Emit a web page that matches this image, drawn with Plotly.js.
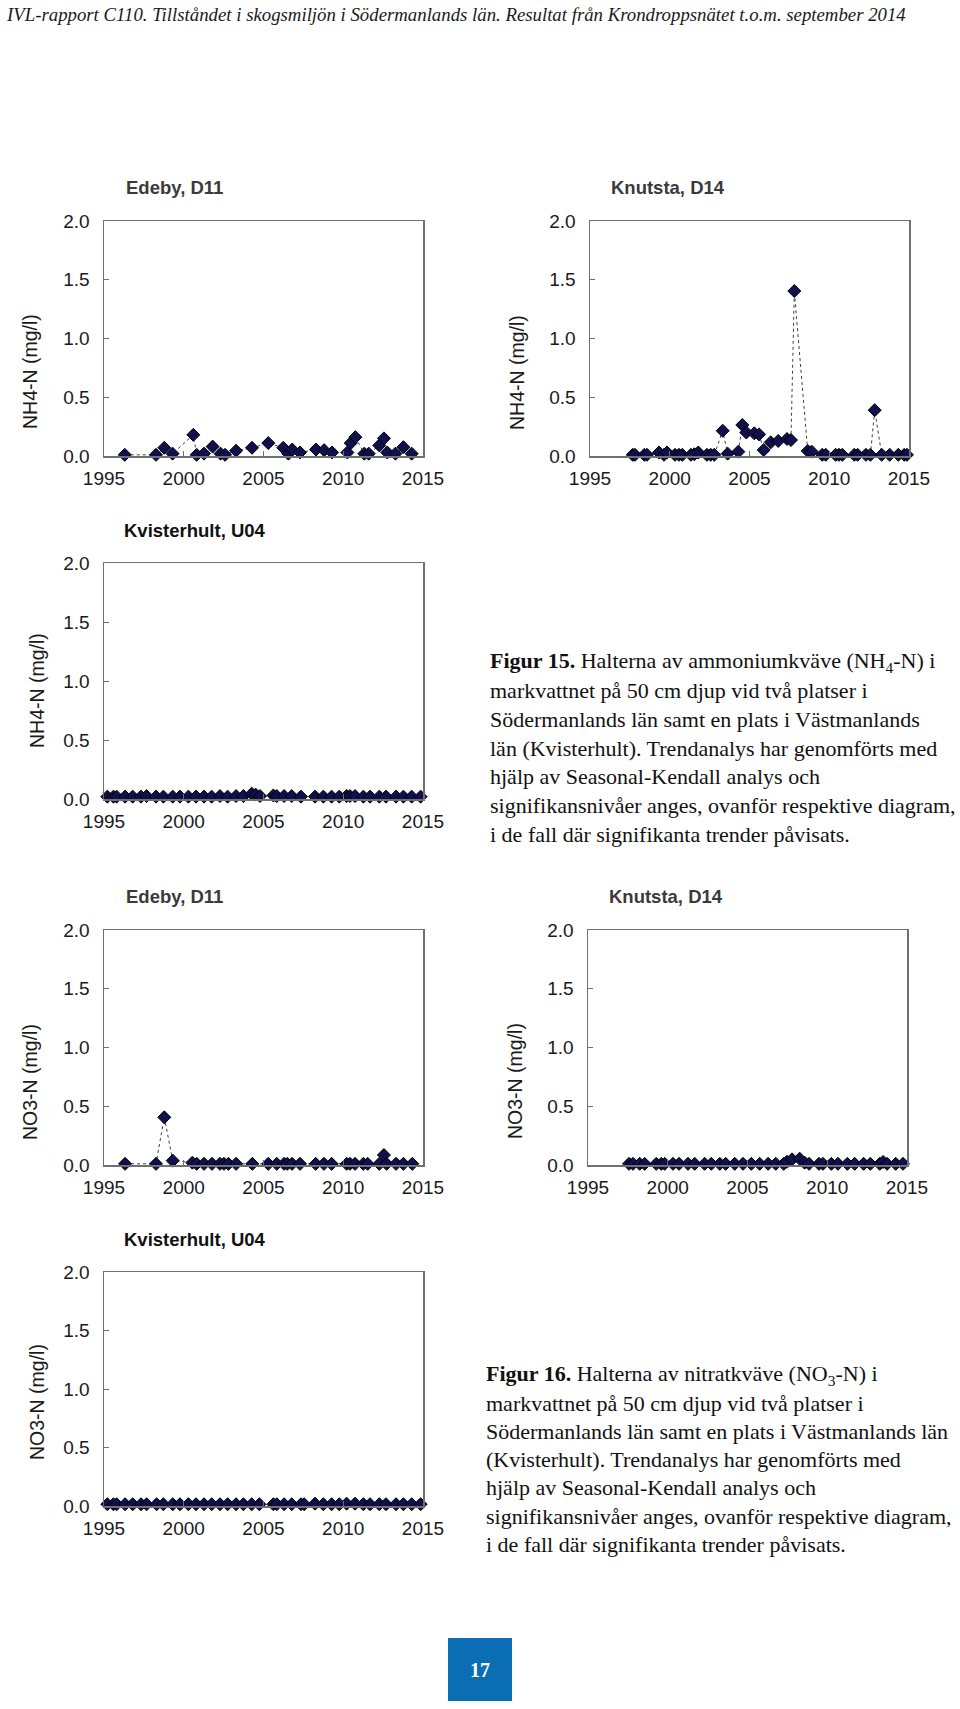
<!DOCTYPE html>
<html>
<head>
<meta charset="utf-8">
<script src="https://cdn.plot.ly/plotly-3.0.1.min.js"></script>
<style>
  html, body { margin: 0; padding: 0; background: #ffffff; }
  #chart { width: 960px; height: 1709px; }
</style>
</head>
<body>
<div id="chart"></div>
<script>
// ---------------- DATA ----------------
const xTickVals = [1995, 2000, 2005, 2010, 2015];
const yTickVals = [0, 0.5, 1.0, 1.5, 2.0];

const siteTitles = ["Edeby, D11", "Knutsta, D14", "Kvisterhult, U04"];
const nh4Label = "NH4-N (mg/l)";
const no3Label = "NO3-N (mg/l)";

// NH4-N
const edebyNH4Year = [1996.3,1998.26,1998.78,1999.3,2000.6,2000.81,2001.27,2001.81,2002.31,2002.59,2003.28,2004.28,2005.3,2006.24,2006.56,2006.8,2007.29,2008.29,2008.8,2009.3,2010.26,2010.47,2010.76,2011.32,2011.6,2012.26,2012.55,2012.76,2013.27,2013.77,2014.29];
const edebyNH4 = [0.01,0.01,0.07,0.02,0.18,0.01,0.02,0.08,0.02,0.01,0.045,0.07,0.11,0.07,0.02,0.055,0.03,0.055,0.05,0.03,0.03,0.11,0.16,0.02,0.02,0.09,0.15,0.03,0.02,0.075,0.02];

const knutstaNH4Year = [1997.68,1997.82,1998.41,1998.57,1999.33,1999.64,1999.83,2000.33,2000.58,2000.79,2001.33,2001.54,2001.79,2002.33,2002.57,2002.79,2003.32,2003.63,2004.3,2004.55,2004.8,2005.3,2005.6,2005.89,2006.33,2006.8,2007.35,2007.6,2007.81,2008.65,2008.9,2009.56,2009.78,2010.4,2010.61,2010.82,2011.57,2011.78,2012.3,2012.58,2012.85,2013.29,2013.79,2014.33,2014.7,2014.87];
const knutstaNH4 = [0.01,0.01,0.01,0.01,0.03,0.01,0.03,0.01,0.01,0.01,0.01,0.015,0.03,0.01,0.01,0.01,0.215,0.02,0.037,0.264,0.2,0.193,0.184,0.051,0.116,0.128,0.145,0.136,1.404,0.043,0.037,0.01,0.01,0.01,0.01,0.01,0.01,0.01,0.01,0.01,0.39,0.01,0.01,0.01,0.01,0.01];

const kvistNH4Year = [1995.21,1995.59,1995.79,1996.32,1996.8,1997.32,1997.67,1998.26,1998.72,1999.31,1999.76,2000.29,2000.77,2001.27,2001.75,2002.27,2002.75,2003.28,2003.74,2004.26,2004.51,2004.78,2005.62,2005.83,2006.29,2006.77,2007.35,2008.23,2008.75,2009.27,2009.75,2010.21,2010.42,2010.74,2011.26,2011.68,2012.26,2012.68,2013.31,2013.77,2014.29,2014.85];
const kvistNH4 = [0.02,0.02,0.02,0.02,0.02,0.02,0.025,0.02,0.02,0.02,0.02,0.02,0.02,0.02,0.02,0.025,0.02,0.025,0.025,0.045,0.037,0.025,0.03,0.025,0.025,0.025,0.02,0.02,0.02,0.02,0.02,0.025,0.025,0.025,0.02,0.02,0.02,0.02,0.02,0.02,0.02,0.02];

// NO3-N
const edebyNO3Year = [1996.32,1998.26,1998.78,1999.31,2000.54,2000.81,2001.27,2001.77,2002.27,2002.52,2002.8,2003.28,2004.3,2005.3,2005.83,2006.29,2006.49,2006.79,2007.29,2008.27,2008.79,2009.27,2010.21,2010.42,2010.74,2011.26,2011.53,2012.26,2012.55,2012.72,2013.31,2013.77,2014.33];
const edebyNO3 = [0.01,0.01,0.406,0.037,0.02,0.01,0.01,0.01,0.01,0.01,0.01,0.01,0.01,0.01,0.01,0.01,0.01,0.01,0.01,0.01,0.01,0.01,0.01,0.01,0.01,0.01,0.01,0.01,0.085,0.01,0.01,0.01,0.01];

const knutstaNO3Year = [1997.57,1997.82,1998.24,1998.55,1999.28,1999.6,1999.81,2000.33,2000.71,2001.27,2001.69,2002.31,2002.73,2003.26,2003.63,2004.2,2004.72,2005.24,2005.76,2006.29,2006.77,2007.27,2007.48,2007.79,2008.27,2008.58,2008.86,2009.48,2009.73,2010.26,2010.67,2011.26,2011.72,2012.28,2012.7,2013.29,2013.5,2013.75,2014.29,2014.75];
const knutstaNO3 = [0.01,0.01,0.01,0.01,0.01,0.01,0.01,0.01,0.01,0.01,0.01,0.01,0.01,0.01,0.01,0.01,0.01,0.01,0.01,0.01,0.01,0.01,0.028,0.048,0.054,0.02,0.01,0.01,0.01,0.01,0.01,0.01,0.01,0.01,0.01,0.01,0.026,0.01,0.01,0.01];

const kvistNO3Year = [1995.21,1995.59,1995.79,1996.32,1996.8,1997.32,1997.67,1998.3,1998.72,1999.31,1999.76,2000.29,2000.77,2001.27,2001.75,2002.27,2002.75,2003.28,2003.74,2004.26,2004.74,2005.62,2005.83,2006.29,2006.77,2007.35,2007.55,2008.23,2008.75,2009.27,2009.75,2010.21,2010.74,2011.26,2011.68,2012.26,2012.68,2013.31,2013.77,2014.29,2014.85];
const kvistNO3 = [0.015,0.015,0.015,0.015,0.015,0.015,0.015,0.015,0.015,0.015,0.015,0.015,0.015,0.015,0.015,0.015,0.015,0.015,0.015,0.015,0.015,0.015,0.015,0.015,0.015,0.015,0.015,0.02,0.015,0.015,0.015,0.02,0.02,0.015,0.015,0.015,0.015,0.015,0.015,0.015,0.015];

const headerText = "IVL-rapport C110. Tillståndet i skogsmiljön i Södermanlands län. Resultat från Krondroppsnätet t.o.m. september 2014";
const caption15 = [
  "<b>Figur 15.</b> Halterna av ammoniumkväve (NH<sub>4</sub>-N) i",
  "markvattnet på 50 cm djup vid två platser i",
  "Södermanlands län samt en plats i Västmanlands",
  "län (Kvisterhult). Trendanalys har genomförts med",
  "hjälp av Seasonal-Kendall analys och",
  "signifikansnivåer anges, ovanför respektive diagram,",
  "i de fall där signifikanta trender påvisats."
];
const caption16 = [
  "<b>Figur 16.</b> Halterna av nitratkväve (NO<sub>3</sub>-N) i",
  "markvattnet på 50 cm djup vid två platser i",
  "Södermanlands län samt en plats i Västmanlands län",
  "(Kvisterhult). Trendanalys har genomförts med",
  "hjälp av Seasonal-Kendall analys och",
  "signifikansnivåer anges, ovanför respektive diagram,",
  "i de fall där signifikanta trender påvisats."
];
const pageNumber = "17";

// ---------------- LAYOUT ----------------
const W = 960, H = 1709;
const px = x => x / W;
const py = y => 1 - y / H;

const panels = [
  {x: edebyNH4Year,   y: edebyNH4,   title: siteTitles[0], ylab: nh4Label, box: [104, 423, 221, 456],  tx: 174, ty: 187,  tcol: '#3a3a3a', yl: 30,  yc: 372},
  {x: knutstaNH4Year, y: knutstaNH4, title: siteTitles[1], ylab: nh4Label, box: [590, 909, 221, 456],  tx: 668, ty: 187,  tcol: '#3a3a3a', yl: 517, yc: 373},
  {x: kvistNH4Year,   y: kvistNH4,   title: siteTitles[2], ylab: nh4Label, box: [104, 423, 563, 799],  tx: 195, ty: 530,  tcol: '#111111', yl: 37,  yc: 691},
  {x: edebyNO3Year,   y: edebyNO3,   title: siteTitles[0], ylab: no3Label, box: [104, 423, 930, 1165], tx: 174, ty: 897,  tcol: '#3a3a3a', yl: 30,  yc: 1082},
  {x: knutstaNO3Year, y: knutstaNO3, title: siteTitles[1], ylab: no3Label, box: [588, 907, 930, 1165], tx: 666, ty: 897,  tcol: '#3a3a3a', yl: 515, yc: 1081},
  {x: kvistNO3Year,   y: kvistNO3,   title: siteTitles[2], ylab: no3Label, box: [104, 423, 1272, 1506], tx: 195, ty: 1239, tcol: '#111111', yl: 37,  yc: 1402}
];

const axisColor = '#707070';
const tickFont = {family: 'Liberation Sans, Arial, sans-serif', size: 19, color: '#1a1a1a'};

const data = [];
const layout = {
  width: W, height: H,
  margin: {l: 0, r: 0, t: 0, b: 0},
  paper_bgcolor: '#ffffff',
  plot_bgcolor: '#ffffff',
  showlegend: false,
  annotations: [],
  shapes: []
};

panels.forEach((p, i) => {
  const n = i + 1;
  const xa = n === 1 ? 'x' : 'x' + n;
  const ya = n === 1 ? 'y' : 'y' + n;
  data.push({
    type: 'scatter', mode: 'lines+markers',
    x: p.x, y: p.y, xaxis: xa, yaxis: ya,
    line: {color: '#404040', width: 1, dash: 'dot'},
    marker: {symbol: 'diamond', size: 10, color: '#10104e', line: {color: '#000000', width: 1}},
    cliponaxis: false,
    hoverinfo: 'x+y'
  });
  const xKey = n === 1 ? 'xaxis' : 'xaxis' + n;
  const yKey = n === 1 ? 'yaxis' : 'yaxis' + n;
  layout[xKey] = {
    domain: [px(p.box[0]), px(p.box[1])],
    anchor: ya,
    range: [1995, 2015],
    tickvals: xTickVals,
    ticktext: xTickVals.map(String),
    ticks: 'inside', ticklen: 5, tickcolor: axisColor, tickwidth: 1,
    showline: true, linecolor: axisColor, linewidth: 1.5, mirror: true,
    showgrid: false, zeroline: false,
    tickfont: tickFont,
    ticklabelstandoff: 5,
    fixedrange: true
  };
  layout[yKey] = {
    domain: [py(p.box[3]), py(p.box[2])],
    anchor: xa,
    range: [0, 2],
    tickvals: yTickVals,
    ticktext: yTickVals.map(v => v.toFixed(1)),
    ticks: 'inside', ticklen: 5, tickcolor: axisColor, tickwidth: 1,
    showline: true, linecolor: axisColor, linewidth: 1.5, mirror: true,
    showgrid: false, zeroline: false,
    tickfont: tickFont,
    ticklabelstandoff: 9,
    fixedrange: true
  };
  // panel title
  layout.annotations.push({
    xref: 'paper', yref: 'paper', x: px(p.tx), y: py(p.ty),
    xanchor: 'center', yanchor: 'middle', showarrow: false,
    text: '<b>' + p.title + '</b>',
    font: {family: 'Liberation Sans, Arial, sans-serif', size: 18.5, color: p.tcol}
  });
  // y-axis title
  layout.annotations.push({
    xref: 'paper', yref: 'paper', x: px(p.yl), y: py(p.yc),
    xanchor: 'center', yanchor: 'middle', showarrow: false, textangle: -90,
    text: p.ylab,
    font: {family: 'Liberation Sans, Arial, sans-serif', size: 19.5, color: '#1a1a1a'}
  });
});

// header
layout.annotations.push({
  xref: 'paper', yref: 'paper', x: px(4), y: py(15),
  xanchor: 'left', yanchor: 'middle', showarrow: false,
  text: '<i>' + headerText + '</i>',
  font: {family: 'Liberation Serif, serif', size: 18.8, color: '#1a1a1a'}
});

// captions
function addCaption(lines, x0, y0, step) {
  lines.forEach((t, i) => {
    layout.annotations.push({
      xref: 'paper', yref: 'paper', x: px(x0), y: py(y0 + i * step),
      xanchor: 'left', yanchor: 'middle', showarrow: false,
      text: t,
      font: {family: 'Liberation Serif, serif', size: 22, color: '#111111'}
    });
  });
}
addCaption(caption15, 488, 662, 28.7);
addCaption(caption16, 484, 1375, 28.2);

// page number box
layout.shapes.push({
  type: 'rect', xref: 'paper', yref: 'paper',
  x0: px(448), x1: px(512), y0: py(1701), y1: py(1638),
  fillcolor: '#0b6db4', line: {width: 0}, layer: 'below'
});
layout.annotations.push({
  xref: 'paper', yref: 'paper', x: px(480), y: py(1670),
  xanchor: 'center', yanchor: 'middle', showarrow: false,
  text: '<b>' + pageNumber + '</b>',
  font: {family: 'Liberation Serif, serif', size: 20, color: '#ffffff'}
});

Plotly.newPlot('chart', data, layout, {staticPlot: true, displayModeBar: false});
</script>
</body>
</html>
